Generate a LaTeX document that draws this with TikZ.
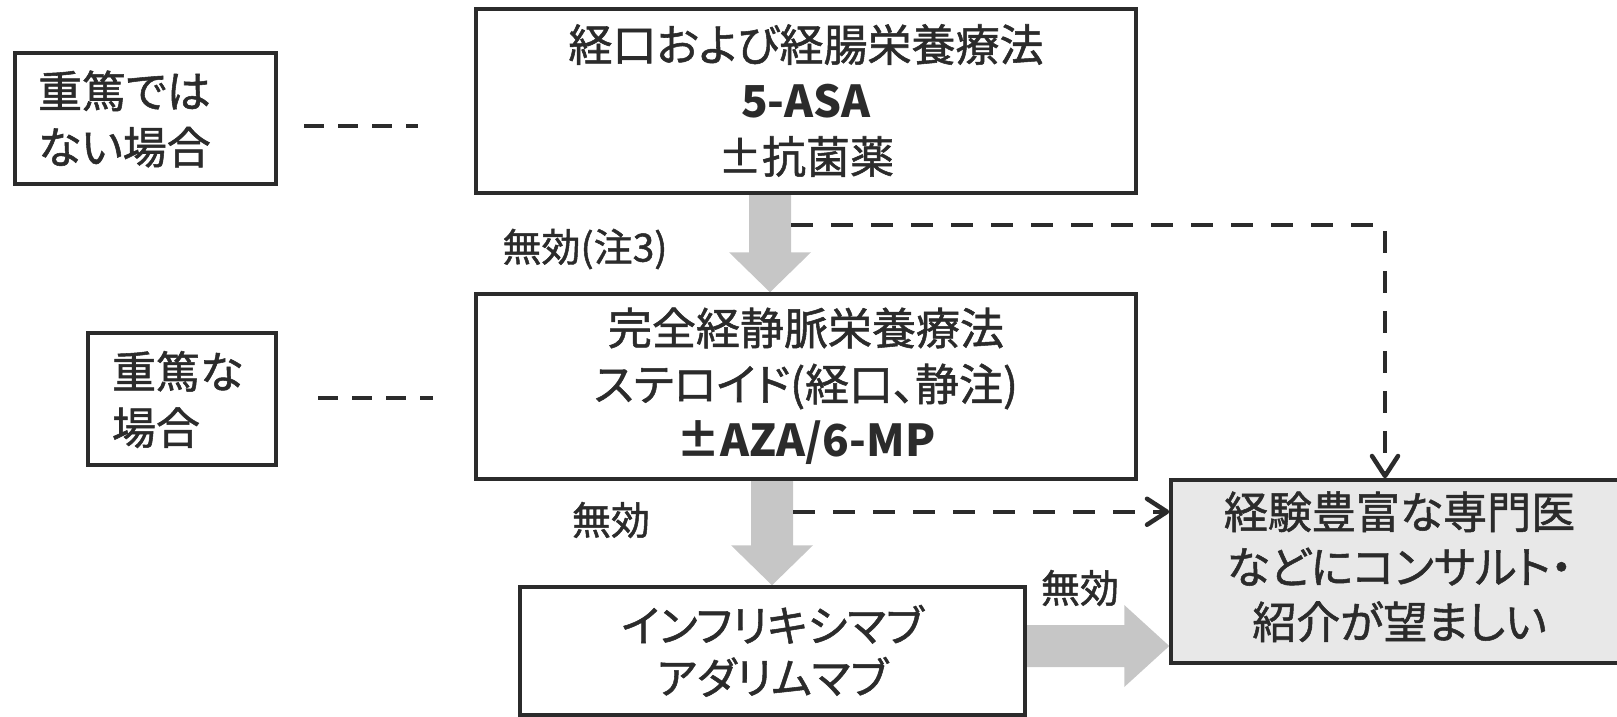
\documentclass[tikz,border=0pt]{standalone}
\usepackage{fontspec}
\newfontfamily\jp[RawFeature=+palt, UprightFeatures={FakeBold=1.2}]{Noto Sans CJK JP}
\usetikzlibrary{arrows.meta,calc,backgrounds}
\definecolor{ink}{HTML}{2B2B2B}
\definecolor{arrowgray}{HTML}{C6C6C6}
\definecolor{panelgray}{HTML}{E8E8E8}
\tikzset{
  box/.style={draw=ink, line width=3.5pt, fill=white, inner sep=0pt, align=center, text=ink},
  bigtext/.style={font=\jp\fontsize{44}{56}\selectfont},
  lbl/.style={font=\jp\fontsize{39}{44}\selectfont, text=ink, inner sep=0pt},
  shortdash/.style={draw=ink, line width=4pt, dash pattern=on 20pt off 14pt},
  longdash/.style={draw=ink, line width=4.5pt, dash pattern=on 22pt off 18pt,
    -{Straight Barb[length=20pt,width=26pt,line cap=round,line join=round]}},
  blockfill/.style={fill=arrowgray}
}
% lines of text moved down by #1 without changing the node's size
\newcommand\lines[3]{\raisebox{-#1}[\height][\depth]{\begin{tabular}{@{}#2@{}}#3\end{tabular}}}
\newcommand\downblock[2]{%
  \fill[blockfill] ($(#1)+(-21,0)$) -- ($(#2)+(-21,-40)$) -- ($(#2)+(-41,-40)$) -- (#2)
    -- ($(#2)+(41,-40)$) -- ($(#2)+(21,-40)$) -- ($(#1)+(21,0)$) -- cycle;}
\newcommand\rightblock[2]{%
  \fill[blockfill] ($(#1)+(0,-21)$) -- ($(#2)+(-45,-21)$) -- ($(#2)+(-45,-41)$) -- (#2)
    -- ($(#2)+(-45,41)$) -- ($(#2)+(-45,21)$) -- ($(#1)+(0,21)$) -- cycle;}
\begin{document}
\begin{tikzpicture}[x=1pt,y=-1pt]
\useasboundingbox (0,0) rectangle (1617,716);
\clip (0,0) rectangle (1617,716);

% left boxes
\node[box, bigtext, align=left, text width=215pt, inner xsep=23pt, minimum height=131pt] (A) at (145.5,118.5)
  {\lines{6pt}{l}{重篤では\\ない場合}};
\node[box, bigtext, align=left, text width=140pt, inner xsep=24pt, minimum height=132pt] (B) at (182,399)
  {\lines{6pt}{l}{重篤な\\場合}};

% main boxes
\node[box, bigtext, minimum width=660pt, minimum height=184pt] (T) at (806,101)
  {\lines{5pt}{c}{経口および経腸栄養療法\\{\bfseries 5-ASA}\\±抗菌薬}};
\node[box, bigtext, minimum width=660pt, minimum height=185pt] (M) at (806,386.5)
  {\lines{3pt}{c}{完全経静脈栄養療法\\ステロイド(経口、静注)\\{\bfseries ±AZA/6-MP}}};
\node[box, font=\jp\fontsize{43}{51}\selectfont, minimum width=505pt, minimum height=128pt] (Bt) at (772.5,651)
  {\lines{6pt}{c}{インフリキシマブ\\アダリムマブ}};
\node[box, fill=panelgray, font=\jp\fontsize{44}{55}\selectfont, minimum width=457pt, minimum height=183pt] (R) at (1399.5,571.5)
  {\lines{1pt}{c}{経験豊富な専門医\\などにコンサルト・\\紹介が望ましい}};

% block arrows
\coordinate (a1s) at ([xshift=-36pt]T.south);
\coordinate (a1e) at ([xshift=-36pt]M.north);
\coordinate (a2s) at ([xshift=-34pt]M.south);
\coordinate (a2e) at ([xshift=-0.5pt]Bt.north);
\coordinate (a3s) at ([yshift=5pt]Bt.east);
\coordinate (a3e) at (a3s -| R.west);
\begin{scope}[on background layer]
  \downblock{a1s}{a1e}
  \downblock{a2s}{a2e}
  \rightblock{a3s}{a3e}
\end{scope}

% dashed connectors
\coordinate (d1) at ($(a1s)+(21,30)$);
\draw[longdash] (d1) -| ([xshift=-14.5pt]R.north);
\coordinate (d2) at ($(a2s)+(21,31)$);
\draw[longdash] (d2) -- (d2 -| R.west);

\coordinate (dA1) at (304,126);
\coordinate (dA2) at (418,126);
\draw[shortdash] (dA1) -- (dA2);
\coordinate (dB1) at (318,398);
\coordinate (dB2) at (433,398);
\draw[shortdash] (dB1) -- (dB2);

% labels
\node[lbl] (L1) at (585,249) {無効(注3)};
\node[lbl] (L2) at (611,520) {無効};
\node[lbl] (L3) at (1080,588) {無効};
\end{tikzpicture}
\end{document}
